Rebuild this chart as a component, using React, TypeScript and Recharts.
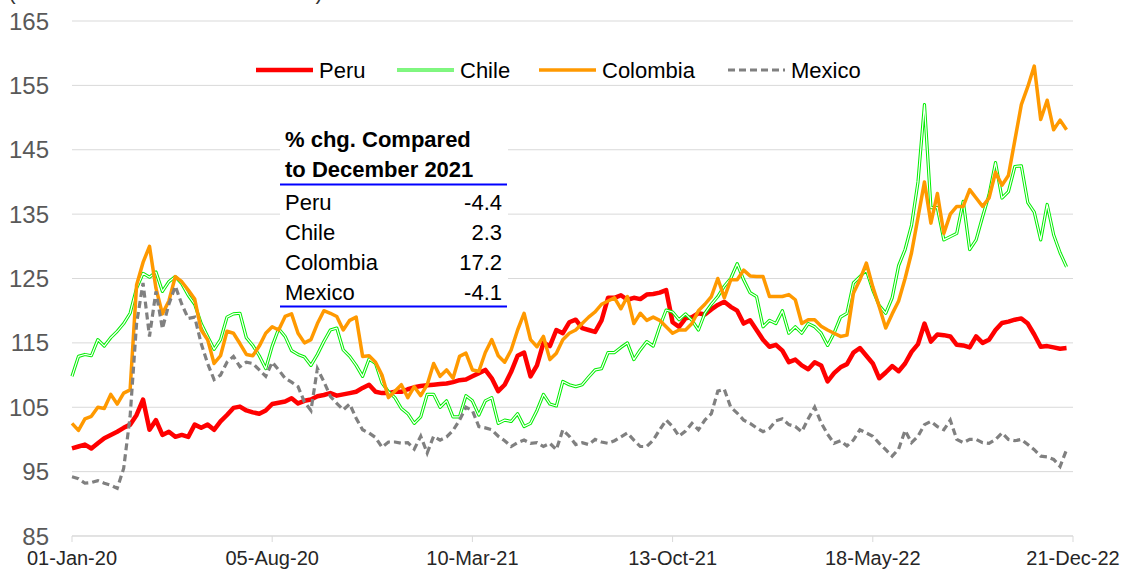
import { LineChart, Line, XAxis, YAxis, CartesianGrid } from 'recharts';

const FONT = '"Liberation Sans", Arial, sans-serif';

// x axis: days since 01-Jan-20, one reading per week
const stepDays = 7;
const tickDays = [0, 217, 434, 651, 868, 1085];
const tickLabels = ['01-Jan-20', '05-Aug-20', '10-Mar-21', '13-Oct-21', '18-May-22', '21-Dec-22'];
const yTicks = [85, 95, 105, 115, 125, 135, 145, 155, 165];

const peru = [
  98.6, 98.9, 99.2, 98.6, 99.4, 100.2, 100.7, 101.2, 101.8, 102.3, 103.8, 106.2, 101.5,
  103.0, 100.7, 101.2, 100.4, 100.7, 100.4, 102.3, 101.8, 102.3, 101.5, 102.8, 103.8, 104.9,
  105.1, 104.5, 104.2, 104.0, 104.5, 105.5, 105.7, 105.9, 106.4, 105.6, 106.0, 106.2, 106.7,
  106.9, 107.2, 106.8, 107.0, 107.2, 107.4, 108.0, 108.5, 107.4, 107.2, 107.2, 107.4, 107.4,
  107.8, 108.1, 108.3, 108.4, 108.5, 108.6, 108.7, 108.9, 109.2, 109.3, 109.8, 110.3, 110.8,
  109.5, 107.5, 108.5, 110.5, 113.0, 113.5, 109.8, 111.5, 115.0, 114.5, 117.0, 116.5, 118.2,
  118.6, 117.3, 117.0, 116.7, 118.5, 122.0, 122.0, 122.4, 121.7, 122.0, 121.8, 122.5, 122.6,
  122.8, 123.2, 118.2, 117.5, 118.8, 119.0, 119.6, 119.4, 120.2, 120.9, 121.4, 120.6, 120.0,
  118.0, 118.5, 117.0, 115.5, 114.4, 114.7, 113.8, 112.0, 112.4, 111.5, 110.9, 112.0, 111.5,
  109.0, 110.3, 111.2, 111.7, 113.5, 114.2, 113.0, 111.8, 109.5, 110.4, 111.4, 110.6, 111.8,
  113.6, 114.8, 118.0, 115.2, 116.3, 116.2, 116.0, 114.7, 114.6, 114.3, 116.0, 115.0, 115.5,
  117.0, 118.1, 118.3, 118.6, 118.8, 118.0, 116.3, 114.4, 114.5, 114.3, 114.1, 114.2,
];

const chile = [
  109.8, 112.9, 113.2, 113.0, 115.5, 114.5, 115.8, 116.8, 118.0, 119.6, 123.5, 125.8, 125.2,
  126.0, 123.0, 124.5, 125.3, 124.2, 122.4, 121.0, 118.0, 116.0, 114.0, 115.5, 119.0, 119.5,
  119.6, 115.8, 114.6, 113.0, 111.0, 114.5, 117.2, 116.0, 113.8, 113.2, 112.8, 111.5, 113.2,
  115.2, 117.0, 117.3, 113.9, 112.9, 111.5, 109.8, 112.5, 111.8, 108.8, 107.4, 106.5, 104.8,
  104.0, 102.5, 103.5, 107.0, 107.0, 105.0, 106.0, 103.5, 103.5, 106.8, 106.0, 103.8, 106.0,
  106.5, 102.5, 103.0, 102.8, 104.0, 102.0, 102.5, 104.5, 107.0, 105.5, 105.2, 109.0, 108.5,
  108.2, 108.5, 109.7, 110.8, 111.0, 113.5, 113.5, 114.3, 115.0, 112.4, 113.9, 115.2, 114.5,
  117.5, 120.1, 119.8, 118.6, 119.5, 118.5, 117.0, 119.6, 121.0, 122.2, 123.8, 125.0, 127.3,
  124.8, 122.8, 122.2, 117.5, 118.5, 118.0, 120.0, 116.5, 117.5, 116.5, 118.0, 117.5, 116.5,
  114.6, 116.5, 119.0, 119.6, 124.3, 125.3, 126.3, 123.2, 120.8, 119.6, 122.0, 127.0, 129.5,
  133.3, 140.0, 152.0, 136.0, 136.0, 131.0, 131.5, 132.0, 137.0, 129.5, 131.0, 134.6, 138.0,
  143.0, 137.5, 138.5, 142.4, 142.5, 136.8, 135.3, 131.0, 136.5, 131.8, 129.0, 126.8,
];

const colombia = [
  102.5, 101.4, 103.2, 103.6, 105.0, 104.8, 107.0, 105.5, 107.2, 107.7, 124.0, 127.5, 130.0,
  123.5, 119.5, 121.5, 125.3, 124.5, 123.2, 121.8, 117.0, 115.5, 111.8, 113.0, 116.8, 116.5,
  114.9, 113.2, 113.0, 114.5, 116.5, 117.5, 117.0, 119.1, 119.5, 116.5, 115.0, 115.5, 118.0,
  120.0, 119.6, 119.1, 117.0, 118.5, 119.0, 112.9, 113.0, 112.0, 110.0, 106.5, 107.5, 108.5,
  106.5, 108.2, 106.8, 108.5, 111.8, 109.8, 110.8, 109.5, 112.9, 113.4, 110.8, 110.6, 113.5,
  115.5, 113.0, 112.0, 113.9, 117.0, 119.6, 115.5, 114.4, 116.0, 112.4, 113.4, 115.5, 116.5,
  117.0, 118.0, 119.0, 119.8, 121.0, 121.5, 122.0, 120.3, 122.2, 118.0, 119.6, 118.5, 119.0,
  118.5, 117.5, 116.5, 117.0, 117.0, 118.0, 120.0, 121.0, 122.2, 125.0, 122.0, 124.8, 124.8,
  126.3, 125.4, 125.3, 125.3, 122.2, 122.2, 122.2, 122.5, 121.7, 118.0, 118.6, 118.6, 117.6,
  117.0, 116.5, 116.0, 116.2, 122.7, 124.8, 127.4, 123.7, 120.6, 117.3, 119.5, 121.5, 125.0,
  129.0, 134.5, 140.0, 133.6, 138.2, 132.0, 135.0, 136.2, 136.2, 138.8, 137.5, 136.2, 137.5,
  141.5, 139.5, 141.0, 146.5, 152.0, 154.8, 158.0, 149.7, 152.7, 148.1, 149.6, 148.1,
];

const mexico = [
  94.2, 93.9, 93.2, 93.3, 93.6, 93.2, 92.9, 92.4, 95.5, 103.6, 118.0, 124.3, 116.0,
  123.0, 117.2, 121.0, 123.8, 121.0, 118.8, 119.0, 114.9, 111.8, 109.3, 110.0, 112.0, 112.9,
  111.3, 112.0, 111.8, 110.8, 109.8, 112.0, 110.8, 109.5, 108.9, 108.2, 105.8, 104.5, 111.0,
  109.0, 106.7, 105.6, 104.6, 105.5, 103.3, 101.5, 101.0, 100.3, 98.8, 99.6, 99.6, 99.4,
  99.5, 98.5, 100.5, 97.9, 100.5, 99.9, 100.4, 101.4, 103.0, 105.0, 104.5, 102.0, 101.8,
  101.5, 100.5, 99.8, 98.9, 99.5, 99.9, 99.4, 99.5, 98.9, 99.4, 98.4, 101.5, 100.5,
  99.2, 99.5, 99.2, 100.0, 99.6, 99.4, 99.8, 100.4, 101.0, 99.9, 98.9, 98.9, 99.9,
  101.5, 103.0, 102.0, 100.5, 101.3, 102.5, 101.5, 103.0, 104.0, 107.5, 107.8, 105.0, 104.1,
  103.0, 102.5, 101.8, 101.2, 101.7, 102.9, 103.2, 102.3, 102.0, 101.2, 103.2, 105.0, 102.6,
  100.8, 99.4, 99.8, 99.0, 99.9, 101.5, 101.0, 100.5, 99.4, 98.4, 97.4, 98.5, 101.4,
  99.5, 100.5, 102.3, 102.8, 102.0, 101.5, 103.0, 100.0, 99.5, 100.0, 100.0, 99.5, 99.4,
  100.0, 101.0, 100.0, 99.8, 100.0, 99.2, 98.4, 97.4, 97.3, 96.9, 95.8, 98.4, 97.7,
];

const tableCountries = ['Peru', 'Chile', 'Colombia', 'Mexico'];
const tableChanges = ['-4.4', '2.3', '17.2', '-4.1'];

const data = peru.map((v, i) => ({
  day: i * stepDays,
  peru: v,
  chile: chile[i],
  colombia: colombia[i],
  mexico: mexico[i],
}));

function Overlay() {
  const legend = [
    { name: 'Peru', x: 256, stroke: '#ff0000', width: 4.5 },
    { name: 'Chile', x: 397, stroke: '#00ee00', width: 3.2, double: true },
    { name: 'Colombia', x: 539, stroke: '#ff9900', width: 3.5 },
    { name: 'Mexico', x: 728, stroke: '#808080', width: 3.2, dash: '7 4' },
  ];
  return (
    <svg
      width={1126}
      height={570}
      style={{ position: 'absolute', left: 0, top: 0, pointerEvents: 'none', fontFamily: FONT }}
    >
      <text x={8} y={-1} fontSize={23} fill="#333">(Index base 1-Jan-2020 = 100)</text>
      {legend.map((l) => (
        <g key={l.name}>
          <line x1={l.x} x2={l.x + 57} y1={70} y2={70} stroke={l.stroke} strokeWidth={l.width} strokeDasharray={l.dash} />
          {l.double && <line x1={l.x} x2={l.x + 57} y1={70} y2={70} stroke="#fff" strokeWidth={1.2} />}
          <text x={l.x + 63} y={78} fontSize={22} fill="#000">{l.name}</text>
        </g>
      ))}
      <rect x={280} y={120} width={228} height={187} fill="#fff" />
      <text x={285} y={147} fontSize={22} fontWeight="bold" fill="#000">% chg. Compared</text>
      <text x={285} y={177} fontSize={22} fontWeight="bold" fill="#000">to December 2021</text>
      <line x1={280} x2={507} y1={184.5} y2={184.5} stroke="#0000ff" strokeWidth={2} />
      {tableCountries.map((c, i) => (
        <g key={c}>
          <text x={285} y={210 + i * 30} fontSize={22} fill="#000">{c}</text>
          <text x={502} y={210 + i * 30} fontSize={22} fill="#000" textAnchor="end">{tableChanges[i]}</text>
        </g>
      ))}
      <line x1={280} x2={507} y1={306.5} y2={306.5} stroke="#0000ff" strokeWidth={2} />
    </svg>
  );
}

export default function App() {
  return (
    <div style={{ position: 'absolute', left: 0, top: 0, width: 1126, height: 570, background: '#fff' }}>
      <LineChart width={1126} height={570} data={data} margin={{ top: 21, right: 53, bottom: 0, left: 0 }}>
        <CartesianGrid vertical={false} stroke="#d9d9d9" />
        <XAxis
          dataKey="day"
          type="number"
          domain={[0, 1085]}
          ticks={tickDays}
          interval={0}
          tickFormatter={(d: number) => tickLabels[tickDays.indexOf(d)]}
          height={34}
          tickSize={6}
          tickMargin={9}
          axisLine={{ stroke: '#d9d9d9' }}
          tickLine={{ stroke: '#d9d9d9' }}
          tick={{ fill: '#262626', fontSize: 20, fontFamily: FONT }}
        />
        <YAxis
          type="number"
          domain={[85, 165]}
          ticks={yTicks}
          interval={0}
          width={72}
          axisLine={false}
          tickLine={false}
          tickSize={6}
          tickMargin={17}
          tick={{ fill: '#595959', fontSize: 24, fontFamily: FONT }}
        />
        <Line dataKey="peru" stroke="#ff0000" strokeWidth={4.5} dot={false} isAnimationActive={false} strokeLinejoin="round" />
        <Line dataKey="chile" stroke="#00ee00" strokeWidth={3.2} dot={false} isAnimationActive={false} strokeLinejoin="round" />
        <Line dataKey="chile" stroke="#ffffff" strokeWidth={1.2} dot={false} isAnimationActive={false} strokeLinejoin="round" />
        <Line dataKey="colombia" stroke="#ff9900" strokeWidth={3.5} dot={false} isAnimationActive={false} strokeLinejoin="round" />
        <Line dataKey="mexico" stroke="#808080" strokeWidth={3.2} strokeDasharray="7 4" dot={false} isAnimationActive={false} />
      </LineChart>
      <Overlay />
    </div>
  );
}
